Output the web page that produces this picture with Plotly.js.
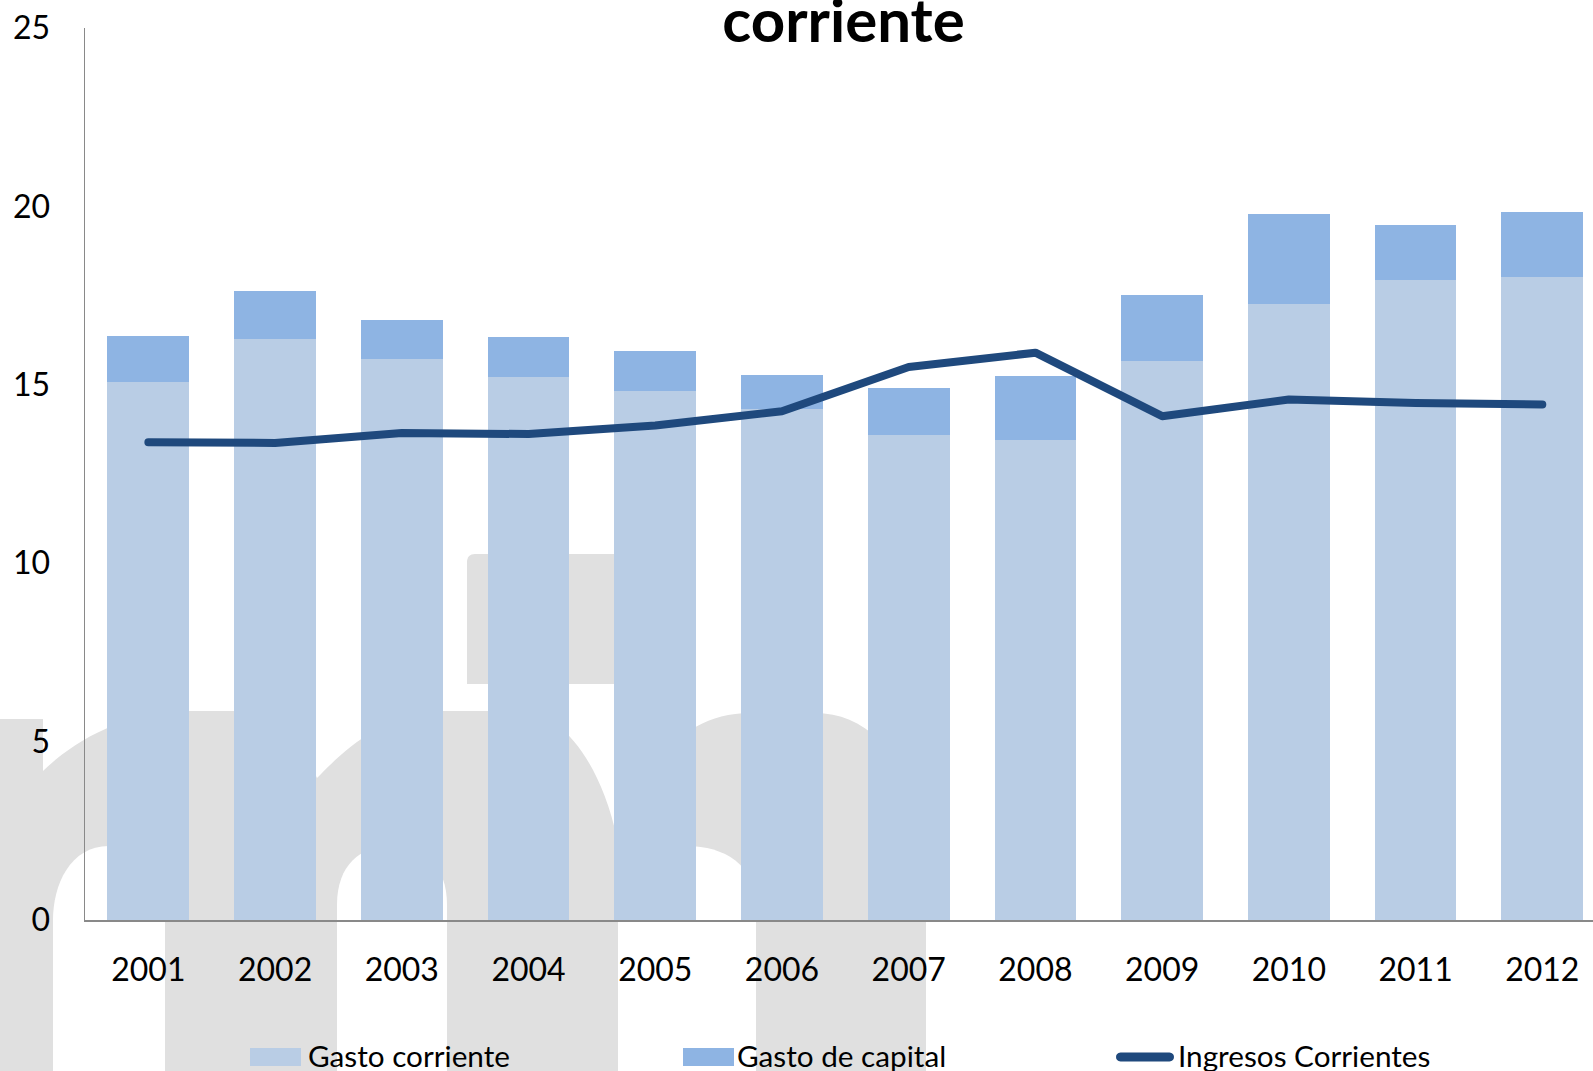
<!DOCTYPE html>
<html>
<head>
<meta charset="utf-8">
<script src="https://cdn.plot.ly/plotly-3.0.1.min.js"></script>
<style>
html,body{margin:0;padding:0;overflow:hidden;background:#fff;}
#chart{width:1593px;height:1071px;}
</style>
</head>
<body>
<div id="chart"></div>
<script>
// ---- data ----
const years = ['2001','2002','2003','2004','2005','2006','2007','2008','2009','2010','2011','2012'];
const gastoCorriente = [15.07, 16.27, 15.73, 15.22, 14.84, 14.32, 13.58, 13.46, 15.67, 17.27, 17.95, 18.03];
const gastoCapital   = [1.29, 1.37, 1.09, 1.12, 1.12, 0.96, 1.33, 1.80, 1.86, 2.52, 1.54, 1.82];
const ingresosCorrientes = [13.39, 13.37, 13.65, 13.62, 13.86, 14.26, 15.50, 15.90, 14.12, 14.59, 14.49, 14.45];
const yTicks = [0, 5, 10, 15, 20, 25];
const seriesNames = ['Gasto corriente', 'Gasto de capital', 'Ingresos Corrientes'];
const titleText = 'corriente';

// ---- styling ----
const FONT = 'Lato, "Open Sans", sans-serif';
const C_CORR = '#B9CDE5', C_CAP = '#8EB4E3', C_LINE = '#1F497D', C_AXIS = '#898989', C_WM = '#E0E0E0';

// plot area in page pixels
const L = 85, T = 28, W = 1508, H = 892;
const fx = x => (x - L) / W;
const fy = y => (T + H - y) / H;
const conv = s => s.replace(/(-?\d+(?:\.\d+)?),(-?\d+(?:\.\d+)?)/g,
  (m, a, b) => fx(+a).toFixed(5) + ',' + fy(+b).toFixed(5));

// background watermark (decoration)
const wmBody = 'M0,1071 L0,719 L43,719 L43,771 C70,745 120,711 190,711 L235,711 ' +
  'C265,711 300,740 317,778 C335,760 380,711 443,711 L520,711 C560,711 600,760 617,838 ' +
  'L625,850 C640,770 680,713 750,713 L815,713 C840,713 860,722 880,740 ' +
  'C910,770 926,810 926,860 L926,1071 Z';
const wmBlock = 'M475,554 L615,554 L615,684 L467,684 L467,562 C467,557 470,554 475,554 Z';
const counters = [
  'M53,1071 L53,920 C53,885 70,846 109,846 C148,846 165,885 165,920 L165,1071 Z',
  'M337,1071 L337,905 C337,865 360,846 392,846 C424,846 447,865 447,905 L447,1071 Z',
  'M618,1071 L618,905 C618,865 650,846 687,846 C724,846 756,865 756,905 L756,1071 Z'
];

const shapes = [];
shapes.push({type:'path', xref:'paper', yref:'paper', path: conv(wmBody), fillcolor: C_WM, line:{width:0}, layer:'below'});
shapes.push({type:'path', xref:'paper', yref:'paper', path: conv(wmBlock), fillcolor: C_WM, line:{width:0}, layer:'below'});
counters.forEach(p => shapes.push({type:'path', xref:'paper', yref:'paper', path: conv(p), fillcolor:'#FFFFFF', line:{width:0}, layer:'below'}));

// custom legend
const legY0 = 1048, legY1 = 1066, legYc = 1057;
const legItems = [
  {x0:250, x1:301, tx:306, color:C_CORR, kind:'bar'},
  {x0:683, x1:734, tx:735, color:C_CAP, kind:'bar'},
  {x0:1116, x1:1174, tx:1176, color:C_LINE, kind:'line'}
];
const annotations = [];
legItems.forEach((it, i) => {
  if (it.kind === 'bar') {
    shapes.push({type:'rect', xref:'paper', yref:'paper', x0:fx(it.x0), x1:fx(it.x1), y0:fy(legY1), y1:fy(legY0),
      fillcolor: it.color, line:{width:0}, layer:'above'});
  } else {
    const a = it.x0 + 4.5, b = it.x1 - 4.5, t = legYc - 4.5, u = legYc + 4.5;
    const p = `M${a},${t} L${b},${t} C${b+6},${t} ${b+6},${u} ${b},${u} L${a},${u} C${a-6},${u} ${a-6},${t} ${a},${t} Z`;
    shapes.push({type:'path', xref:'paper', yref:'paper', path: conv(p), fillcolor: it.color, line:{width:0}, layer:'above'});
  }
  annotations.push({xref:'paper', yref:'paper', x: fx(it.tx), y: fy(legYc - 2), xanchor:'left', yanchor:'middle',
    text: seriesNames[i], showarrow:false, font:{family:FONT, size:29.7, color:'#000'}});
});

const traces = [
  {type:'bar', name:seriesNames[0], x:years, y:gastoCorriente, marker:{color:C_CORR, line:{width:0}}, hoverinfo:'y'},
  {type:'bar', name:seriesNames[1], x:years, y:gastoCapital, marker:{color:C_CAP, line:{width:0}}, hoverinfo:'y'},
  {type:'scatter', mode:'lines', name:seriesNames[2], x:years, y:ingresosCorrientes,
   line:{color:C_LINE, width:8}, hoverinfo:'y'}
];

const layout = {
  width:1593, height:1071,
  margin:{l:L, r:0, t:T, b:1071 - T - H, pad:0},
  paper_bgcolor:'#FFFFFF', plot_bgcolor:'rgba(0,0,0,0)',
  showlegend:false,
  barmode:'stack', bargap:0.355,
  title:{text:'<b>' + titleText + '</b>', font:{family:FONT, size:60, color:'#000'},
    xref:'container', yref:'container', x:843.5/1593, xanchor:'center', y:1 - 20.7/1071, yanchor:'middle'},
  xaxis:{type:'category', range:[-0.5, 11.4], showline:true, linecolor:C_AXIS, linewidth:2,
    ticks:'', showgrid:false, zeroline:false, ticklabelstandoff:21,
    tickfont:{family:FONT, size:32, color:'#000'}, fixedrange:true, automargin:false},
  yaxis:{range:[0, 25], tickvals:yTicks, ticktext:yTicks.map(String), showline:true, linecolor:C_AXIS, linewidth:1.5,
    ticks:'', showgrid:false, zeroline:false, ticklabelstandoff:27,
    tickfont:{family:FONT, size:32, color:'#000'}, fixedrange:true, automargin:false},
  shapes: shapes,
  annotations: annotations
};

Plotly.newPlot('chart', traces, layout, {displayModeBar:false, staticPlot:true}).then(() => {
  document.querySelectorAll('.scatterlayer path.js-line').forEach(p => {
    p.style.strokeLinecap = 'round';
    p.style.strokeLinejoin = 'round';
  });
});
</script>
</body>
</html>
